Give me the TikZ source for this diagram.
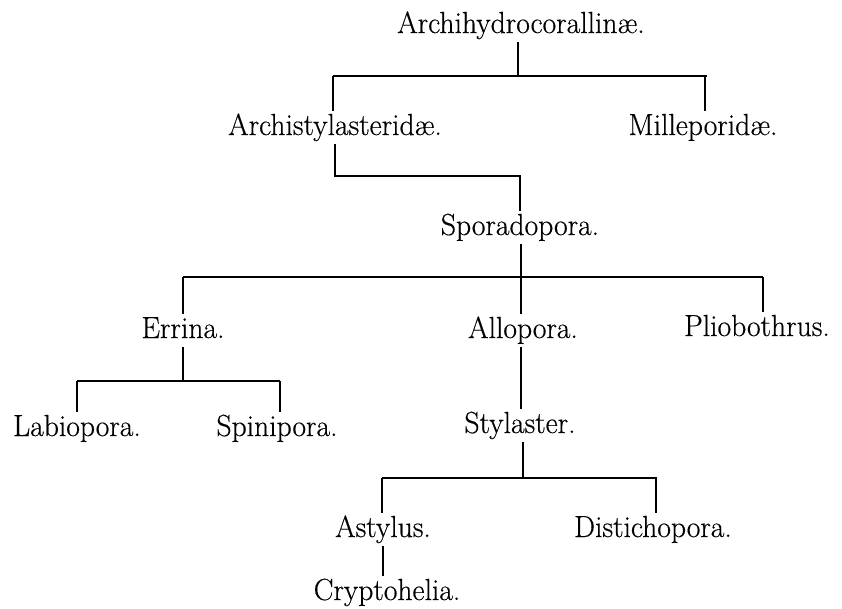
\documentclass[tikz,border=0pt]{standalone}
\usepackage{fontspec}
\newfontfamily\taxfont{Latin Modern Roman}[FakeBold=0.4,FakeStretch=0.97]
\begin{document}
\begin{tikzpicture}[x=1pt,y=-1pt,
  taxon/.style={anchor=base,inner sep=0pt,outer sep=3pt,text height=21pt,text depth=6pt,
    font=\taxfont\fontsize{30.5}{36}\selectfont},
  link/.style={line width=1.5pt,black}]
\useasboundingbox (0,0) rectangle (842,608);
% nodes (placed at their baselines)
\node[taxon] (archi) at (521,33) {Archihydrocorallinæ.};
\node[taxon] (astyl) at (335,135) {Archistylasteridæ.};
\node[taxon] (mille) at (703,135) {Milleporidæ.};
\node[taxon] (spor)  at (520,235) {Sporadopora.};
\node[taxon] (errina) at (183,338) {Errina.};
\node[taxon] (allo)  at (523,338) {Allopora.};
\node[taxon] (plio)  at (757,336) {Pliobothrus.};
\node[taxon] (labio) at (77,436) {Labiopora.};
\node[taxon] (spini) at (277,436) {Spinipora.};
\node[taxon] (styl)  at (520,433) {Stylaster.};
\node[taxon] (asty)  at (383,537) {Astylus.};
\node[taxon] (dist)  at (653,537) {Distichopora.};
\node[taxon] (crypt) at (387,600) {Cryptohelia.};
% bar coordinates
\coordinate (b1l) at (333,76);
\coordinate (b1r) at (707,76);
\coordinate (b1m) at (518,76);
\coordinate (b2r) at (520,176);
\coordinate (b3l) at (183,277);
\coordinate (b3r) at (763,277);
\coordinate (b3m) at (521,277);
\coordinate (b4l) at (77,381);
\coordinate (b4r) at (280,381);
\coordinate (b5l) at (382,478);
\coordinate (b5r) at (657,478);
\coordinate (b5m) at (523,478);
% level 1
\draw[link] (archi.south -| b1m) -- (b1m);
\draw[link] (b1l) -- (b1r);
\draw[link] (b1l) -- (b1l |- astyl.north);
\draw[link] ([xshift=-2pt]b1r) -- ([xshift=-2pt]b1r |- mille.north);
% level 2
\draw[link] (astyl.south) |- (b2r) -- (spor.north);
% level 3
\draw[link] (spor.south -| b3m) -- (b3m);
\draw[link] (b3l) -- (b3r);
\draw[link] (b3l) -- (b3l |- errina.north);
\draw[link] (b3m) -- (b3m |- allo.north);
\draw[link] (b3r) -- (b3r |- plio.north);
% Errina branch
\draw[link] (errina.south) -- (errina.south |- b4l);
\draw[link] (b4l) -- (b4r);
\draw[link] (b4l) -- (b4l |- labio.north);
\draw[link] (b4r) -- (b4r |- spini.north);
% Allopora branch
\draw[link] (allo.south -| b3m) -- (b3m |- styl.north);
\draw[link] (styl.south -| b5m) -- (b5m);
\draw[link] (b5l) -- (b5r);
\draw[link] (b5l) -- (b5l |- asty.north);
\draw[link] ([xshift=-1pt]b5r) -- ([xshift=-1pt]b5r |- dist.north);
\draw[link] (asty.south) -- (crypt.north -| asty.south);
\end{tikzpicture}
\end{document}
